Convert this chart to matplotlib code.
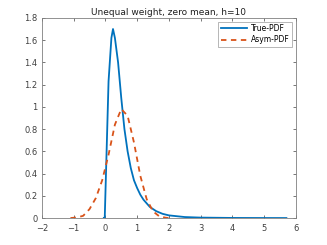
import matplotlib

matplotlib.use("Agg")

import matplotlib.pyplot as plt

# True-PDF samples
true_x = [-0.05, -0.02, 0.1, 0.19, 0.24, 0.3, 0.4, 0.5, 0.6, 0.7, 0.8, 0.9, 1.0,
          1.1, 1.2, 1.4, 1.6, 1.8, 2.0, 2.5, 3.0, 4.0, 5.0, 5.7]
true_y = [0.0, 0.0, 1.23, 1.62, 1.70, 1.62, 1.40, 1.08, 0.80, 0.60, 0.45, 0.34, 0.27,
          0.21, 0.165, 0.10, 0.062, 0.038, 0.024, 0.009, 0.004, 0.001, 0.0003, 0.0]

# Asym-PDF samples
asym_x = [-1.1, -0.9, -0.7, -0.5, -0.3, -0.1, 0.1, 0.3, 0.5, 0.7, 0.9, 1.1,
          1.3, 1.5, 1.7, 1.9, 2.0]
asym_y = [0.0, 0.005, 0.02, 0.08, 0.18, 0.34, 0.57, 0.84, 0.98, 0.92, 0.68, 0.38,
          0.17, 0.06, 0.015, 0.003, 0.0]

xticks = list(range(-2, 7))
yticks = [0, 0.2, 0.4, 0.6, 0.8, 1.0, 1.2, 1.4, 1.6, 1.8]
ytick_labels = ["0", "0.2", "0.4", "0.6", "0.8", "1", "1.2", "1.4", "1.6", "1.8"]

fig = plt.figure(figsize=(3.27, 2.45), dpi=100)
ax = fig.add_axes([0.128, 0.110, 0.777, 0.817])

ax.plot(true_x, true_y, color="#0072BD", lw=1.3, label="True-PDF")
ax.plot(asym_x, asym_y, color="#D95319", lw=1.3, ls=(0, (3, 2.5)), label="Asym-PDF")

ax.set_xlim(-2, 6)
ax.set_ylim(0, 1.8)
ax.set_xticks(xticks)
ax.set_yticks(yticks)
ax.set_yticklabels(ytick_labels)
ax.tick_params(direction="in", length=2.5, width=0.5, labelsize=6,
               colors="#404040", top=True, right=True)
ax.tick_params(axis="x", pad=4)
ax.tick_params(axis="y", pad=3)
for s in ax.spines.values():
    s.set_color("#808080")
    s.set_linewidth(0.6)

ax.set_title("Unequal weight, zero mean, h=10", fontsize=6.5, pad=2, color="#202020")
leg = ax.legend(loc="upper right", fontsize=5.5, frameon=True, fancybox=False,
                handlelength=3.5, borderpad=0.3, labelspacing=0.3,
                handletextpad=0.5, borderaxespad=0.5)
leg.get_frame().set_edgecolor("#808080")
leg.get_frame().set_linewidth(0.5)

fig.savefig("out.png", dpi=100)
